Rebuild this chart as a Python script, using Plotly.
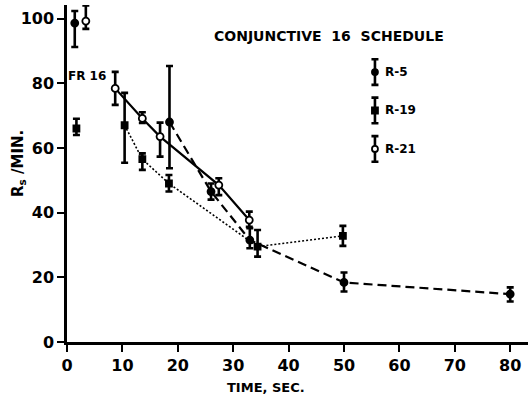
import plotly.graph_objects as go

# ---- data ----
r5_x = [18.5, 26.0, 33.0, 50.0, 80.0]
r5_y = [68.0, 46.5, 31.5, 18.4, 14.8]
r5_hi = [85.3, 49.0, 35.2, 21.5, 16.9]
r5_lo = [53.7, 44.0, 29.0, 15.6, 12.5]

r19_x = [10.4, 13.6, 18.4, 34.4, 49.8]
r19_y = [67.0, 56.5, 49.0, 29.5, 32.8]
r19_hi = [77.0, 58.3, 51.6, 34.6, 35.9]
r19_lo = [55.4, 53.2, 46.5, 26.4, 29.7]

r21_x = [8.7, 13.6, 16.8, 27.4, 32.9]
r21_y = [78.4, 69.1, 63.5, 48.5, 37.7]
r21_hi = [83.5, 71.0, 67.8, 50.6, 40.3]
r21_lo = [73.3, 67.7, 57.3, 45.4, 35.6]

# FR 16 baseline points (not connected)
fr_x = {"R-5": 1.4, "R-19": 1.7, "R-21": 3.4}
fr_y = {"R-5": 98.6, "R-19": 66.0, "R-21": 99.2}
fr_hi = {"R-5": 102.3, "R-19": 69.0, "R-21": 104.0}
fr_lo = {"R-5": 91.2, "R-19": 64.0, "R-21": 96.8}

x_ticks = [0, 10, 20, 30, 40, 50, 60, 70, 80]
y_ticks = [0, 20, 40, 60, 80, 100]

series_names = ["R-5", "R-19", "R-21"]

# ---- styles ----
styles = {
    "R-5": dict(symbol="circle", fill="black", dash="9px,5px", lw=2.2, size=7),
    "R-19": dict(symbol="square", fill="black", dash="2px,2px", lw=1.6, size=6),
    "R-21": dict(symbol="circle", fill="white", dash="solid", lw=2.2, size=7),
}

data = {
    "R-5": (r5_x, r5_y, r5_hi, r5_lo),
    "R-19": (r19_x, r19_y, r19_hi, r19_lo),
    "R-21": (r21_x, r21_y, r21_hi, r21_lo),
}

FONT = "DejaVu Sans"
fig = go.Figure()


def err(y, hi, lo):
    return dict(type="data", symmetric=False,
                array=[h - v for h, v in zip(hi, y)],
                arrayminus=[v - l for v, l in zip(y, lo)],
                color="black", thickness=2.6, width=3.5)


def marker(st):
    return dict(symbol=st["symbol"], size=st["size"], color=st["fill"],
                line=dict(color="black", width=1.8))


for name in series_names:
    xs, ys, hi, lo = data[name]
    st = styles[name]
    fig.add_trace(go.Scatter(
        x=xs, y=ys, mode="lines+markers", name=name,
        line=dict(color="black", width=st["lw"], dash=st["dash"]),
        marker=marker(st), error_y=err(ys, hi, lo), showlegend=False))
    fig.add_trace(go.Scatter(
        x=[fr_x[name]], y=[fr_y[name]], mode="markers", marker=marker(st),
        error_y=err([fr_y[name]], [fr_hi[name]], [fr_lo[name]]), showlegend=False))

# legend glyphs on an overlay axis in 0..1 units
leg_x = 0.668
leg_y = {"R-5": 0.801, "R-19": 0.687, "R-21": 0.573}
leg_half = 0.038
for name in series_names:
    st = styles[name]
    fig.add_trace(go.Scatter(
        x=[leg_x], y=[leg_y[name]], xaxis="x2", yaxis="y2", mode="markers",
        marker=marker(dict(st, size=6)),
        error_y=dict(type="data", array=[leg_half], color="black", thickness=2.6, width=3.5),
        showlegend=False, hoverinfo="skip"))
    fig.add_annotation(x=leg_x + 0.018, y=leg_y[name], xref="x2", yref="y2",
                       text=name, showarrow=False, xanchor="left", yanchor="middle",
                       font=dict(family=FONT, size=12, color="black", weight="bold"))

W, H = 528, 398
L, R, T, B = 67, 0, 5, 56


def px(xp, yp):
    return (xp - L) / (W - L - R), (H - B - yp) / (H - T - B)


def label(xp, yp, text, size, angle=0):
    x, y = px(xp, yp)
    fig.add_annotation(x=x, y=y, xref="paper", yref="paper", text=text, showarrow=False,
                       xanchor="center", yanchor="middle", textangle=angle,
                       font=dict(family=FONT, size=size, color="black", weight="bold"))


label(329, 36, "CONJUNCTIVE  16  SCHEDULE", 14)
label(87, 76, "FR 16", 12)
label(266, 387, "TIME, SEC.", 13)
label(18, 164, "R<sub>s</sub> /MIN.", 15, angle=-90)

axis_common = dict(ticks="outside", ticklen=7, tickwidth=2, showline=True, linewidth=2.5,
                   linecolor="black", showgrid=False, zeroline=False, tickcolor="black",
                   tickfont=dict(family=FONT, size=16, color="black", weight="bold"))

fig.update_layout(
    width=W, height=H,
    margin=dict(l=L, r=R, t=T, b=B, pad=0),
    paper_bgcolor="white", plot_bgcolor="white",
    xaxis=dict(range=[0, (W - L - R) / 5.54], tickvals=x_ticks, **axis_common),
    yaxis=dict(range=[0, (H - T - B) / 3.235], tickvals=y_ticks, **axis_common),
    xaxis2=dict(range=[0, 1], overlaying="x", visible=False),
    yaxis2=dict(range=[0, 1], overlaying="y", visible=False),
    showlegend=False,
)

fig.write_html("out.html")
